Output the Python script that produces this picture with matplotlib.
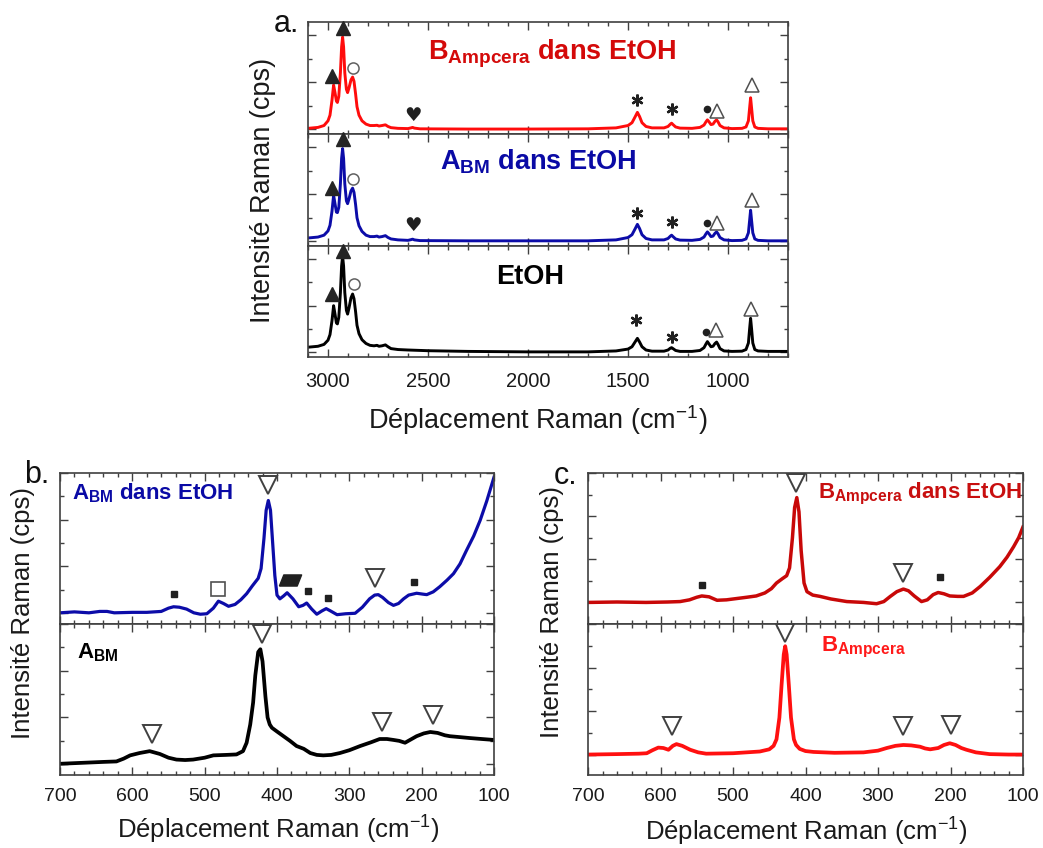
import matplotlib
matplotlib.use("Agg")
import matplotlib.pyplot as plt
from matplotlib.ticker import MultipleLocator, NullFormatter

plt.rcParams['font.family'] = ['Liberation Sans', 'DejaVu Sans']
plt.rcParams['mathtext.fontset'] = 'custom'
plt.rcParams['mathtext.rm'] = 'Liberation Sans'
plt.rcParams['mathtext.bf'] = 'Liberation Sans:bold'
plt.rcParams['mathtext.it'] = 'Liberation Sans:italic'

# ---------------------------------------------------------------- data
# (a) high-frequency range, three solutions
a_red_x = [3100, 3050, 3020, 3000, 2990, 2980, 2972, 2965, 2958, 2953, 2946, 2938, 2932,
           2927, 2922, 2916, 2908, 2902, 2895, 2885, 2877, 2870, 2862, 2855, 2845, 2830,
           2810, 2790, 2770, 2755, 2745, 2730, 2713, 2700, 2685, 2650, 2600, 2585, 2577,
           2568, 2540, 2300, 2000, 1700, 1560, 1500, 1480, 1465, 1453, 1442, 1430, 1410,
           1380, 1320, 1300, 1288, 1282, 1275, 1262, 1240, 1180, 1140, 1120, 1110, 1103,
           1095, 1085, 1075, 1065, 1057, 1050, 1040, 1020, 980, 930, 910, 898, 892, 887,
           882, 876, 866, 850, 800, 700]
a_red_y = [0.02, 0.04, 0.08, 0.18, 0.30, 0.62, 0.94, 0.78, 0.60, 0.57, 0.70, 1.20, 1.75,
           1.96, 1.75, 1.20, 0.85, 0.78, 0.88, 1.05, 1.11, 1.02, 0.75, 0.48, 0.30, 0.18,
           0.11, 0.08, 0.08, 0.085, 0.07, 0.08, 0.095, 0.06, 0.035, 0.02, 0.015, 0.03, 0.04,
           0.025, 0.01, 0.005, 0.005, 0.01, 0.03, 0.08, 0.14, 0.26, 0.36, 0.27, 0.14, 0.06,
           0.03, 0.03, 0.06, 0.11, 0.13, 0.10, 0.05, 0.025, 0.02, 0.04, 0.09, 0.16, 0.20,
           0.16, 0.10, 0.11, 0.17, 0.20, 0.16, 0.08, 0.03, 0.015, 0.02, 0.05, 0.18, 0.45, 0.67,
           0.45, 0.18, 0.05, 0.02, 0.01, 0.01]

a_blue_x = list(a_red_x)
a_blue_y = [0.07, 0.09, 0.13, 0.22, 0.34, 0.64, 0.98, 0.80, 0.62, 0.61, 0.72, 1.22, 1.76,
            1.97, 1.76, 1.22, 0.86, 0.80, 0.90, 1.07, 1.13, 1.04, 0.78, 0.50, 0.33, 0.21,
            0.13, 0.10, 0.10, 0.11, 0.09, 0.10, 0.12, 0.08, 0.05, 0.03, 0.02, 0.035, 0.045,
            0.03, 0.015, 0.01, 0.01, 0.01, 0.03, 0.08, 0.14, 0.26, 0.36, 0.27, 0.14, 0.06,
            0.03, 0.03, 0.06, 0.11, 0.13, 0.10, 0.05, 0.025, 0.02, 0.04, 0.09, 0.16, 0.20,
            0.16, 0.10, 0.11, 0.17, 0.20, 0.16, 0.08, 0.03, 0.015, 0.02, 0.05, 0.18, 0.44, 0.66,
            0.44, 0.18, 0.05, 0.02, 0.01, 0.01]

a_black_x = [3100, 3050, 3020, 3000, 2990, 2980, 2972, 2965, 2958, 2953, 2946, 2938, 2932,
             2927, 2922, 2916, 2908, 2902, 2895, 2885, 2877, 2870, 2862, 2855, 2845, 2830,
             2810, 2790, 2770, 2755, 2745, 2730, 2713, 2700, 2685, 2650, 2600, 2500, 2300,
             2000, 1700, 1560, 1500, 1480, 1465, 1453, 1442, 1430, 1410, 1380, 1320, 1300,
             1288, 1282, 1275, 1262, 1240, 1180, 1140, 1120, 1110, 1103, 1095, 1085, 1075,
             1065, 1057, 1050, 1040, 1020, 980, 930, 910, 898, 892, 887, 882, 876, 866, 850,
             800, 700]
a_black_y = [0.11, 0.13, 0.17, 0.26, 0.38, 0.68, 1.00, 0.82, 0.63, 0.61, 0.75, 1.28, 1.85,
             2.06, 1.85, 1.28, 0.90, 0.82, 0.95, 1.17, 1.25, 1.15, 0.87, 0.58, 0.40, 0.27,
             0.19, 0.15, 0.14, 0.15, 0.13, 0.14, 0.16, 0.12, 0.08, 0.06, 0.05, 0.035, 0.02,
             0.01, 0.01, 0.03, 0.07, 0.12, 0.22, 0.30, 0.22, 0.12, 0.05, 0.025, 0.025, 0.05,
             0.09, 0.10, 0.08, 0.04, 0.02, 0.02, 0.04, 0.10, 0.18, 0.23, 0.18, 0.12, 0.13,
             0.19, 0.22, 0.17, 0.08, 0.03, 0.02, 0.025, 0.06, 0.20, 0.50, 0.73, 0.50, 0.20,
             0.06, 0.03, 0.02, 0.02]

# (b) low-frequency range, A_BM
b_etoh_x = [700, 680, 660, 645, 635, 625, 600, 580, 560, 550, 543, 535, 525, 515, 506, 497,
            488, 481, 474, 467, 458, 450, 442, 434, 426, 422, 418, 415, 412, 409, 406, 403,
            400, 396, 391, 386, 378, 370, 364, 359, 352, 345, 338, 332, 326, 317, 305, 292,
            282, 272, 265, 260, 254, 246, 239, 232, 225, 218, 207, 198, 193, 184, 175, 165,
            156, 147, 138, 128, 119, 110, 100]
b_etoh_y = [0.00, 0.02, 0.00, 0.03, 0.03, 0.00, 0.01, 0.01, 0.03, 0.10, 0.13, 0.12, 0.08,
            0.00, -0.03, -0.02, 0.10, 0.25, 0.20, 0.14, 0.18, 0.28, 0.41, 0.58, 0.74, 0.95,
            1.60, 2.20, 2.41, 2.20, 1.50, 0.80, 0.38, 0.30, 0.36, 0.43, 0.30, 0.13, 0.16,
            0.21, 0.08, -0.03, 0.04, 0.09, 0.04, -0.04, -0.02, -0.01, 0.12, 0.30, 0.38,
            0.39, 0.33, 0.22, 0.16, 0.20, 0.30, 0.38, 0.42, 0.40, 0.39, 0.45, 0.56, 0.70,
            0.84, 1.05, 1.34, 1.65, 1.99, 2.40, 2.91]

b_solid_x = [700, 670, 640, 622, 612, 603, 590, 576, 562, 550, 539, 527, 516, 500, 488, 470,
             456, 447, 442, 437, 433, 430, 426, 423, 420, 416, 413, 410, 407, 400, 391, 382,
             373, 363, 354, 345, 336, 325, 313, 300, 285, 270, 258, 248, 239, 231, 223, 215,
             207, 197, 188, 178, 168, 161, 147, 133, 117, 100]
b_solid_y = [0.01, 0.03, 0.05, 0.06, 0.12, 0.19, 0.24, 0.28, 0.22, 0.14, 0.10, 0.09, 0.10,
             0.14, 0.19, 0.20, 0.21, 0.28, 0.46, 0.85, 1.32, 1.90, 2.40, 2.46, 2.20, 1.45,
             1.00, 0.85, 0.78, 0.70, 0.60, 0.50, 0.39, 0.33, 0.24, 0.20, 0.19, 0.20, 0.24,
             0.30, 0.39, 0.47, 0.54, 0.54, 0.52, 0.50, 0.46, 0.53, 0.60, 0.66, 0.69, 0.67,
             0.62, 0.60, 0.58, 0.56, 0.54, 0.52]

# (c) low-frequency range, B_Ampcera
c_etoh_x = [700, 660, 620, 590, 573, 560, 550, 543, 533, 522, 509, 495, 481, 468, 456, 447,
            440, 432, 426, 422, 418, 415, 412, 409, 406, 402, 398, 390, 380, 365, 343, 320,
            302, 292, 283, 274, 265, 258, 250, 240, 232, 224, 217, 209, 201, 190, 182, 170,
            159, 146, 132, 122, 113, 106, 100]
c_etoh_y = [0.00, 0.01, 0.00, 0.01, 0.02, 0.06, 0.12, 0.15, 0.13, 0.05, 0.06, 0.09, 0.12,
            0.15, 0.22, 0.32, 0.45, 0.55, 0.62, 0.80, 1.50, 2.20, 2.43, 2.10, 1.20, 0.45,
            0.25, 0.17, 0.14, 0.08, 0.02, 0.00, -0.03, 0.02, 0.14, 0.25, 0.31, 0.27, 0.15,
            0.02, 0.06, 0.18, 0.23, 0.20, 0.15, 0.14, 0.14, 0.22, 0.37, 0.58, 0.83, 1.05,
            1.29, 1.50, 1.75]

c_solid_x = [700, 660, 630, 619, 611, 603, 596, 589, 583, 578, 570, 559, 548, 537, 500, 463,
             450, 444, 440, 436, 433, 430, 428, 426, 423, 420, 416, 413, 408, 400, 389, 360,
             320, 300, 288, 276, 265, 254, 242, 235, 228, 217, 209, 201, 193, 185, 178, 165,
             146, 120, 100]
c_solid_y = [0.00, 0.01, 0.02, 0.03, 0.10, 0.16, 0.15, 0.11, 0.20, 0.24, 0.20, 0.11, 0.05,
             0.02, 0.03, 0.07, 0.12, 0.20, 0.35, 0.85, 1.60, 2.30, 2.49, 2.30, 1.60, 0.85,
             0.35, 0.22, 0.13, 0.08, 0.06, 0.04, 0.05, 0.09, 0.15, 0.20, 0.22, 0.21, 0.18,
             0.14, 0.12, 0.15, 0.22, 0.26, 0.22, 0.15, 0.11, 0.05, 0.01, 0.00, 0.00]

# band assignment symbols: (symbol, wavenumber, height)
a_red_marks = [('tri', 2980, 1.13), ('tri', 2927, 2.15), ('circ', 2877, 1.31),
               ('heart', 2577, 0.30), ('star', 1453, 0.62), ('star', 1282, 0.44),
               ('dot', 1107, 0.43), ('otri', 1053, 0.38), ('otri', 882, 0.94)]
a_blue_marks = [('tri', 2980, 1.14), ('tri', 2927, 2.17), ('circ', 2877, 1.33),
                ('heart', 2577, 0.33), ('star', 1453, 0.60), ('star', 1282, 0.40),
                ('dot', 1107, 0.38), ('otri', 1053, 0.38), ('otri', 882, 0.87)]
a_black_marks = [('tri', 2980, 1.25), ('tri', 2927, 2.18), ('circ', 2872, 1.47),
                 ('star', 1460, 0.70), ('star', 1282, 0.33), ('dot', 1110, 0.43),
                 ('otri', 1058, 0.47), ('otri', 887, 0.93)]
b_etoh_marks = [('vtri', 412, 2.74), ('sq', 543, 0.40), ('osq', 481, 0.51),
                ('para', 382, 0.70), ('sq', 357, 0.46), ('sq', 330, 0.32),
                ('vtri', 264, 0.75), ('sq', 210, 0.66)]
b_solid_marks = [('vtri', 421, 2.78), ('vtri', 573, 0.65), ('vtri', 255, 0.90),
                 ('vtri', 184, 1.06)]
c_etoh_marks = [('vtri', 413, 2.76), ('sq', 543, 0.41), ('vtri', 265, 0.68),
                ('sq', 215, 0.59)]
c_solid_marks = [('vtri', 428, 2.80), ('vtri', 584, 0.65), ('vtri', 265, 0.65),
                 ('vtri', 199, 0.69)]

XLABEL = 'Déplacement Raman (cm$^{-1}$)'
YLABEL = 'Intensité Raman (cps)'

# ---------------------------------------------------------------- figure
W, H = 1043, 848
fig = plt.figure(figsize=(W / 100, H / 100), dpi=100)

FRAME = '#404040'


def axes_px(left, top, right, bottom):
    return fig.add_axes([left / W, 1 - bottom / H, (right - left) / W, (bottom - top) / H])


def style(ax, xlim, ylim, xmaj, xmin, show_labels, labelsize, pad):
    ax.set_xlim(*xlim)
    ax.set_ylim(*ylim)
    ax.xaxis.set_major_locator(MultipleLocator(xmaj))
    ax.xaxis.set_minor_locator(MultipleLocator(xmin))
    ax.yaxis.set_major_locator(MultipleLocator(1))
    ax.yaxis.set_minor_locator(MultipleLocator(0.5))
    ax.yaxis.set_major_formatter(NullFormatter())
    if not show_labels:
        ax.xaxis.set_major_formatter(NullFormatter())
    ax.tick_params(which='both', direction='in', top=True, right=True, color=FRAME,
                   width=1.0, labelsize=labelsize, labelcolor='#1a1a1a', pad=pad)
    ax.tick_params(which='major', length=5.5)
    ax.tick_params(which='minor', length=3)
    for s in ax.spines.values():
        s.set_color(FRAME)
        s.set_linewidth(1.2)


PARA = [(-1.0, -0.5), (0.6, -0.5), (1.0, 0.5), (-0.6, 0.5), (-1.0, -0.5)]


def draw_marks(ax, marks, scale=1.0):
    for kind, x, y in marks:
        kw = dict(linestyle='none', clip_on=False, zorder=5)
        if kind == 'tri':
            ax.plot(x, y, marker='^', ms=9.5 * scale, color='#252525', **kw)
        elif kind == 'otri':
            ax.plot(x, y, marker='^', ms=10.5 * scale, mfc='white', mec='#505050', mew=1.1, **kw)
        elif kind == 'circ':
            ax.plot(x, y, marker='o', ms=8 * scale, mfc='white', mec='#606060', mew=1.1, **kw)
        elif kind == 'dot':
            ax.plot(x, y, marker='o', ms=4.5 * scale, color='#202020', **kw)
        elif kind == 'star':
            ax.plot(x, y, marker=(6, 2, 0), ms=8.5 * scale, color='#202020', mew=1.7, **kw)
        elif kind == 'heart':
            ax.text(x, y, '\u2665', ha='center', va='center', fontsize=14 * scale,
                    family='DejaVu Sans', color='#202020', zorder=5)
        elif kind == 'vtri':
            ax.plot(x, y, marker='v', ms=13.5, mfc='white', mec='#404040', mew=1.4, **kw)
        elif kind == 'sq':
            ax.plot(x, y, marker='s', ms=3.8, color='#202020', **kw)
        elif kind == 'osq':
            ax.plot(x, y, marker='s', ms=10, mfc='white', mec='#505050', mew=1.2, **kw)
        elif kind == 'para':
            ax.plot(x, y, marker=PARA, ms=16, color='#202020', **kw)


# ---------------- panel a
A_LEFT, A_RIGHT = 308, 788
a_rows = [(22, 134), (134, 246), (246, 357)]
a_series = [
    (a_red_x, a_red_y, '#ff0c0c', a_red_marks),
    (a_blue_x, a_blue_y, '#0c0ca8', a_blue_marks),
    (a_black_x, a_black_y, '#000000', a_black_marks),
]
a_axes = []
for i, ((top, bot), (xs, ys, col, marks)) in enumerate(zip(a_rows, a_series)):
    ax = axes_px(A_LEFT, top, A_RIGHT, bot)
    style(ax, (3100, 700), (-0.1, 2.28), 500, 100, i == 2, 14.5, 10.5)
    ax.plot(xs, ys, color=col, lw=2.1, solid_joinstyle='round')
    draw_marks(ax, marks)
    a_axes.append(ax)

a_axes[0].text(2500, 1.48, r'$\mathbf{B_{Ampcera}}$ dans EtOH', color='#d40a0a',
               fontsize=19.5, fontweight='bold', ha='left', va='baseline')
a_axes[1].text(2440, 1.53, r'$\mathbf{A_{BM}}$ dans EtOH', color='#0a0aa5',
               fontsize=19.5, fontweight='bold', ha='left', va='baseline')
a_axes[2].text(2157, 1.46, 'EtOH', color='#000000',
               fontsize=19.5, fontweight='bold', ha='left', va='baseline')
fig.text(538 / W, 1 - 420 / H, XLABEL, fontsize=19.5, ha='center', va='center', color='#1a1a1a')
fig.text(263 / W, 1 - 190 / H, YLABEL, fontsize=19.5, rotation=90, ha='center',
         va='center', color='#1a1a1a')
fig.text(274 / W, 1 - 32 / H, 'a.', fontsize=22, ha='left', va='baseline', color='#111111')

# ---------------- panel b
B_LEFT, B_RIGHT = 60, 494
axb1 = axes_px(B_LEFT, 473, B_RIGHT, 624)
axb2 = axes_px(B_LEFT, 624, B_RIGHT, 775)
style(axb1, (700, 100), (-0.24, 3.0), 100, 20, False, 14, 9.5)
style(axb2, (700, 100), (-0.23, 3.0), 100, 20, True, 14, 9.5)
axb1.plot(b_etoh_x, b_etoh_y, color='#0c0ca8', lw=2.3, solid_joinstyle='round')
axb2.plot(b_solid_x, b_solid_y, color='#000000', lw=2.7, solid_joinstyle='round')
draw_marks(axb1, b_etoh_marks)
draw_marks(axb2, b_solid_marks)
axb1.text(684, 2.43, r'$\mathbf{A_{BM}}$ dans EtOH', color='#0a0aa5', fontsize=16,
          fontweight='bold', ha='left', va='baseline')
axb2.text(677, 2.26, r'$\mathbf{A_{BM}}$', color='#000000', fontsize=16,
          fontweight='bold', ha='left', va='baseline')
fig.text(278 / W, 1 - 830 / H, XLABEL, fontsize=18.5, ha='center', va='center', color='#1a1a1a')
fig.text(23 / W, 1 - 613 / H, YLABEL, fontsize=18.5, rotation=90, ha='center',
         va='center', color='#1a1a1a')
fig.text(24 / W, 1 - 483 / H, 'b.', fontsize=22, ha='left', va='baseline', color='#111111')

# ---------------- panel c
C_LEFT, C_RIGHT = 588, 1023
axc1 = axes_px(C_LEFT, 473, C_RIGHT, 624)
axc2 = axes_px(C_LEFT, 624, C_RIGHT, 775)
style(axc1, (700, 100), (-0.5, 3.0), 100, 20, False, 14, 9.5)
style(axc2, (700, 100), (-0.47, 3.0), 100, 20, True, 14, 9.5)
axc1.plot(c_etoh_x, c_etoh_y, color='#c80808', lw=2.5, solid_joinstyle='round')
axc2.plot(c_solid_x, c_solid_y, color='#ff1010', lw=2.7, solid_joinstyle='round')
draw_marks(axc1, c_etoh_marks)
draw_marks(axc2, c_solid_marks)
axc1.text(102, 2.41, r'$\mathbf{B_{Ampcera}}$ dans EtOH', color='#c80f0f', fontsize=16,
          fontweight='bold', ha='right', va='baseline')
axc2.text(378, 2.38, r'$\mathbf{B_{Ampcera}}$', color='#ff1a1a', fontsize=16,
          fontweight='bold', ha='left', va='baseline')
fig.text(806 / W, 1 - 832 / H, XLABEL, fontsize=18.5, ha='center', va='center', color='#1a1a1a')
fig.text(552 / W, 1 - 612 / H, YLABEL, fontsize=18.5, rotation=90, ha='center',
         va='center', color='#1a1a1a')
fig.text(554 / W, 1 - 484 / H, 'c.', fontsize=22, ha='left', va='baseline', color='#111111')

fig.savefig('out.png', dpi=100, facecolor='white')
